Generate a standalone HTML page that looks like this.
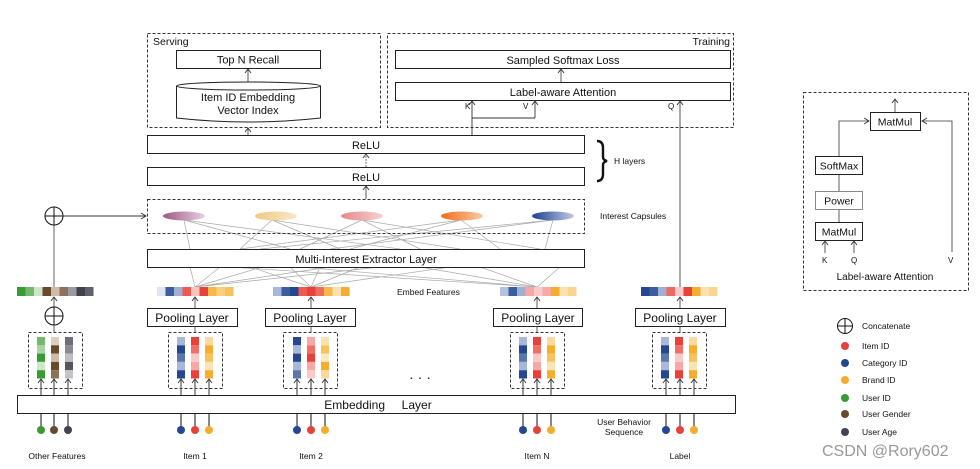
<!DOCTYPE html>
<html><head><meta charset="utf-8"><style>
html,body{margin:0;padding:0;background:#fff;}
svg{display:block;font-family:"Liberation Sans",Arial,sans-serif;}
</style></head><body>
<svg width="980" height="469" viewBox="0 0 980 469" xmlns="http://www.w3.org/2000/svg">
<defs>
<marker id="a" markerWidth="10" markerHeight="10" refX="9" refY="5" orient="auto" markerUnits="userSpaceOnUse"><path d="M5,2 L9,5 L5,8" fill="none" stroke="#333" stroke-width="0.9"/></marker>
<marker id="ar" markerWidth="10" markerHeight="10" refX="9" refY="5" orient="auto" markerUnits="userSpaceOnUse"><path d="M4,2 L9,5 L4,8" fill="none" stroke="#333" stroke-width="0.9"/></marker>
<linearGradient id="g1"><stop offset="0" stop-color="#9a5a86"/><stop offset="1" stop-color="#e8d0e0"/></linearGradient>
<linearGradient id="g2"><stop offset="0" stop-color="#efc882"/><stop offset="1" stop-color="#f8e8c8"/></linearGradient>
<linearGradient id="g3"><stop offset="0" stop-color="#e48a8a"/><stop offset="1" stop-color="#f6d0d0"/></linearGradient>
<linearGradient id="g4"><stop offset="0" stop-color="#f06a1e"/><stop offset="1" stop-color="#fbcaa0"/></linearGradient>
<linearGradient id="g5"><stop offset="0" stop-color="#1f3f8f"/><stop offset="1" stop-color="#c0cce8"/></linearGradient>
</defs>
<g font-size="11" fill="#111">
<!-- Serving -->
<rect x="147.5" y="33.5" width="233" height="94" fill="none" stroke="#333" stroke-dasharray="3,2"/>
<text x="153" y="45" font-size="10.5">Serving</text>
<rect x="176.5" y="50.5" width="144" height="18" fill="#fff" stroke="#222"/>
<text x="248" y="63.5" text-anchor="middle">Top N Recall</text>
<path d="M176.5,86 V118 Q248,126 320.5,118 V86" fill="#fff" stroke="#222"/>
<ellipse cx="248.5" cy="86" rx="72" ry="4" fill="#fff" stroke="#222"/>
<text x="248" y="101" text-anchor="middle">Item ID Embedding</text>
<text x="248" y="114" text-anchor="middle">Vector Index</text>
<line x1="248" y1="82" x2="248" y2="69" stroke="#333" stroke-width="0.8" marker-end="url(#a)"/>
<line x1="248" y1="135" x2="248" y2="128" stroke="#333" stroke-width="0.8" marker-end="url(#a)"/>
<!-- Training -->
<rect x="387.5" y="33.5" width="346" height="94" fill="none" stroke="#333" stroke-dasharray="3,2"/>
<text x="730" y="45" font-size="10.5" text-anchor="end">Training</text>
<rect x="395.5" y="50.5" width="335" height="18" fill="#fff" stroke="#222"/>
<text x="563" y="64" text-anchor="middle">Sampled Softmax Loss</text>
<rect x="395.5" y="82.5" width="335" height="18" fill="#fff" stroke="#222"/>
<text x="563" y="96" text-anchor="middle">Label-aware Attention</text>
<line x1="561" y1="82" x2="561" y2="69" stroke="#333" stroke-width="0.8" marker-end="url(#a)"/>
<text x="465" y="109" font-size="8">K</text><text x="523" y="109" font-size="8">V</text><text x="668" y="109" font-size="8">Q</text>
<path d="M472,135 V118 H535" fill="none" stroke="#333" stroke-width="0.9"/>
<line x1="472" y1="118" x2="472" y2="101" stroke="#333" stroke-width="0.9" marker-end="url(#a)"/>
<line x1="535" y1="118" x2="535" y2="101" stroke="#333" stroke-width="0.9" marker-end="url(#a)"/>
<line x1="680" y1="287" x2="680" y2="101" stroke="#444" stroke-width="0.9" marker-end="url(#a)"/>
<!-- ReLU -->
<rect x="147.5" y="135.5" width="437" height="18" fill="#fff" stroke="#222"/>
<text x="366" y="149" text-anchor="middle">ReLU</text>
<rect x="147.5" y="167.5" width="437" height="18" fill="#fff" stroke="#222"/>
<text x="366" y="181" text-anchor="middle">ReLU</text>
<line x1="366" y1="167" x2="366" y2="154" stroke="#555" stroke-width="0.8" stroke-dasharray="2,1" marker-end="url(#a)"/>
<line x1="366" y1="199" x2="366" y2="186" stroke="#333" stroke-width="0.8" marker-end="url(#a)"/>
<path d="M597,141 Q603,141 603,148 V157 Q603,160 607,161 Q603,162 603,165 V174 Q603,181 597,181" fill="none" stroke="#111" stroke-width="2.4"/>
<text x="614" y="164" font-size="8.5">H layers</text>
<!-- capsules -->
<g stroke="#aaa" stroke-width="0.7" fill="none">
<path d="M184,220 L190,249 M184,220 L290,249 M184,220 L400,249 M272,220 L240,249 M272,220 L340,249 M272,220 L460,249 M362,220 L300,249 M362,220 L420,249 M362,220 L540,249 M461,220 L350,249 M461,220 L240,249 M461,220 L500,249 M553,220 L260,249 M553,220 L330,249 M553,220 L545,249"/>
<path d="M195,287 L190,267 M195,287 L220,267 M195,287 L262,267 M195,287 L330,267 M195,287 L380,267 M311,287 L250,267 M311,287 L290,267 M311,287 L320,267 M311,287 L360,267 M311,287 L450,267 M537,287 L420,267 M537,287 L480,267 M537,287 L560,267 M537,287 L300,267 M537,287 L230,267"/>
</g>
<rect x="147.5" y="199.5" width="437" height="34" fill="none" stroke="#333" stroke-dasharray="3,2"/>
<ellipse cx="184" cy="216" rx="21" ry="4.5" fill="url(#g1)"/>
<ellipse cx="276" cy="216" rx="21" ry="4.5" fill="url(#g2)"/>
<ellipse cx="362" cy="216" rx="21" ry="4.5" fill="url(#g3)"/>
<ellipse cx="462" cy="216" rx="21" ry="4.5" fill="url(#g4)"/>
<ellipse cx="553" cy="216" rx="21" ry="4.5" fill="url(#g5)"/>
<text x="600" y="219" font-size="8.5">Interest Capsules</text>
<rect x="147.5" y="249.5" width="437" height="18" fill="#fff" stroke="#222"/>
<text x="366" y="263" text-anchor="middle">Multi-Interest Extractor Layer</text>
<!-- concat -->
<line x1="54" y1="287" x2="54" y2="225" stroke="#999" stroke-width="1.5"/>
<line x1="63" y1="216" x2="146" y2="216" stroke="#333" stroke-width="0.9" marker-end="url(#ar)"/>
<g fill="#fff" stroke="#111" stroke-width="1"><circle cx="54" cy="216" r="9"/><path d="M45,216 H63 M54,207 V225"/><circle cx="54" cy="316" r="9"/><path d="M45,316 H63 M54,307 V325"/></g>
<line x1="54" y1="307" x2="54" y2="297" stroke="#333" stroke-width="0.8" marker-end="url(#a)"/>
<line x1="54" y1="332" x2="54" y2="325" stroke="#333" stroke-width="0.8"/>
<!-- embed bars -->
<g>
<rect x="17" y="287" width="8.5" height="9" fill="#3a9a33"/><rect x="25.5" y="287" width="8.5" height="9" fill="#74b96a"/><rect x="34" y="287" width="8.5" height="9" fill="#cde6c8"/><rect x="42.5" y="287" width="8.5" height="9" fill="#6b4a2c"/><rect x="51" y="287" width="8.5" height="9" fill="#cdbcaa"/><rect x="59.5" y="287" width="8.5" height="9" fill="#8c7258"/><rect x="68" y="287" width="8.5" height="9" fill="#9a9aa2"/><rect x="76.5" y="287" width="8.5" height="9" fill="#42424e"/><rect x="85" y="287" width="8.5" height="9" fill="#60606c"/>
</g>
<g>
<rect x="157" y="287" width="8.5" height="9" fill="#dfe4ef"/><rect x="165.5" y="287" width="8.5" height="9" fill="#3a5ea0"/><rect x="174" y="287" width="8.5" height="9" fill="#9fb0d3"/><rect x="182.5" y="287" width="8.5" height="9" fill="#ef5a50"/><rect x="191" y="287" width="8.5" height="9" fill="#f7c4c0"/><rect x="199.5" y="287" width="8.5" height="9" fill="#e8413a"/><rect x="208" y="287" width="8.5" height="9" fill="#f6b847"/><rect x="216.5" y="287" width="8.5" height="9" fill="#f9cf7d"/><rect x="225" y="287" width="8.5" height="9" fill="#f6c15a"/>
</g>
<g>
<rect x="273" y="287" width="8.5" height="9" fill="#a9b8d8"/><rect x="281.5" y="287" width="8.5" height="9" fill="#3a5ea0"/><rect x="290" y="287" width="8.5" height="9" fill="#24478f"/><rect x="298.5" y="287" width="8.5" height="9" fill="#ef5a50"/><rect x="307" y="287" width="8.5" height="9" fill="#e8413a"/><rect x="315.5" y="287" width="8.5" height="9" fill="#ef6a60"/><rect x="324" y="287" width="8.5" height="9" fill="#f6b847"/><rect x="332.5" y="287" width="8.5" height="9" fill="#fbe0b0"/><rect x="341" y="287" width="8.5" height="9" fill="#f4ad2c"/>
</g>
<g>
<rect x="500" y="287" width="8.5" height="9" fill="#b4c2de"/><rect x="508.5" y="287" width="8.5" height="9" fill="#3a5ea0"/><rect x="517" y="287" width="8.5" height="9" fill="#9fb0d3"/><rect x="525.5" y="287" width="8.5" height="9" fill="#f7a8a5"/><rect x="534" y="287" width="8.5" height="9" fill="#f9cbc8"/><rect x="542.5" y="287" width="8.5" height="9" fill="#f7a8a5"/><rect x="551" y="287" width="8.5" height="9" fill="#f4ad2c"/><rect x="559.5" y="287" width="8.5" height="9" fill="#fbe0b0"/><rect x="568" y="287" width="8.5" height="9" fill="#f9d590"/>
</g>
<g>
<rect x="641" y="287" width="8.5" height="9" fill="#24478f"/><rect x="649.5" y="287" width="8.5" height="9" fill="#3a5ea0"/><rect x="658" y="287" width="8.5" height="9" fill="#9fb0d3"/><rect x="666.5" y="287" width="8.5" height="9" fill="#ef6a60"/><rect x="675" y="287" width="8.5" height="9" fill="#f9cbc8"/><rect x="683.5" y="287" width="8.5" height="9" fill="#e8413a"/><rect x="692" y="287" width="8.5" height="9" fill="#f4ad2c"/><rect x="700.5" y="287" width="8.5" height="9" fill="#fbe0b0"/><rect x="709" y="287" width="8.5" height="9" fill="#f9d590"/>
</g>
<text x="397" y="295" font-size="8.5">Embed Features</text>
<!-- pooling -->
<g fill="#fff" stroke="#222">
<rect x="147.5" y="308.5" width="90" height="18"/><rect x="265.5" y="308.5" width="90" height="18"/><rect x="493.5" y="308.5" width="89" height="18"/><rect x="635.5" y="308.5" width="90" height="18"/>
</g>
<g font-size="12" text-anchor="middle"><text x="192" y="322">Pooling Layer</text><text x="310" y="322">Pooling Layer</text><text x="538" y="322">Pooling Layer</text><text x="680" y="322">Pooling Layer</text></g>
<g stroke="#333" stroke-width="0.8">
<line x1="195" y1="308" x2="195" y2="297" marker-end="url(#a)"/><line x1="311" y1="308" x2="311" y2="297" marker-end="url(#a)"/><line x1="537" y1="308" x2="537" y2="297" marker-end="url(#a)"/><line x1="680" y1="308" x2="680" y2="297" marker-end="url(#a)"/>
<line x1="195" y1="327" x2="195" y2="332"/><line x1="311" y1="327" x2="311" y2="332"/><line x1="537" y1="327" x2="537" y2="332"/><line x1="680" y1="327" x2="680" y2="332"/>
</g>
<!-- dashed groups -->
<g fill="none" stroke="#333" stroke-dasharray="3,2">
<rect x="28.5" y="332.5" width="54" height="56"/><rect x="168.5" y="332.5" width="54" height="56"/><rect x="283.5" y="332.5" width="54" height="56"/><rect x="510.5" y="332.5" width="54" height="56"/><rect x="652.5" y="332.5" width="54" height="56"/>
</g>
<!-- columns -->
<g>
<rect x="37" y="337" width="8" height="8.3" fill="#74b96a"/><rect x="37" y="345.3" width="8" height="8.3" fill="#a8d4a0"/><rect x="37" y="353.6" width="8" height="8.3" fill="#3a9a33"/><rect x="37" y="361.9" width="8" height="8.3" fill="#cde6c8"/><rect x="37" y="370.2" width="8" height="8.3" fill="#3a9a33"/>
<rect x="51" y="337" width="8" height="8.3" fill="#ddd0c2"/><rect x="51" y="345.3" width="8" height="8.3" fill="#6b4a2c"/><rect x="51" y="353.6" width="8" height="8.3" fill="#cdbcaa"/><rect x="51" y="361.9" width="8" height="8.3" fill="#6b4a2c"/><rect x="51" y="370.2" width="8" height="8.3" fill="#8c7258"/>
<rect x="65" y="337" width="8" height="8.3" fill="#6e6e78"/><rect x="65" y="345.3" width="8" height="8.3" fill="#8a8a94"/><rect x="65" y="353.6" width="8" height="8.3" fill="#bdbdc2"/><rect x="65" y="361.9" width="8" height="8.3" fill="#55555f"/><rect x="65" y="370.2" width="8" height="8.3" fill="#c4c4c8"/>
</g>
<g id="c1">
<rect x="177" y="337" width="8" height="8.3" fill="#a9b8d8"/><rect x="177" y="345.3" width="8" height="8.3" fill="#24478f"/><rect x="177" y="353.6" width="8" height="8.3" fill="#5a77b0"/><rect x="177" y="361.9" width="8" height="8.3" fill="#a9b8d8"/><rect x="177" y="370.2" width="8" height="8.3" fill="#24478f"/>
<rect x="191" y="337" width="8" height="8.3" fill="#e8413a"/><rect x="191" y="345.3" width="8" height="8.3" fill="#f07068"/><rect x="191" y="353.6" width="8" height="8.3" fill="#f9cbc8"/><rect x="191" y="361.9" width="8" height="8.3" fill="#f7a8a5"/><rect x="191" y="370.2" width="8" height="8.3" fill="#e8413a"/>
<rect x="205" y="337" width="8" height="8.3" fill="#fbd9a0"/><rect x="205" y="345.3" width="8" height="8.3" fill="#f4ad2c"/><rect x="205" y="353.6" width="8" height="8.3" fill="#f7c25e"/><rect x="205" y="361.9" width="8" height="8.3" fill="#fbe3b8"/><rect x="205" y="370.2" width="8" height="8.3" fill="#f4ad2c"/>
</g>
<g>
<rect x="293" y="337" width="8" height="8.3" fill="#24478f"/><rect x="293" y="345.3" width="8" height="8.3" fill="#a9b8d8"/><rect x="293" y="353.6" width="8" height="8.3" fill="#24478f"/><rect x="293" y="361.9" width="8" height="8.3" fill="#a9b8d8"/><rect x="293" y="370.2" width="8" height="8.3" fill="#5a77b0"/>
<rect x="307" y="337" width="8" height="8.3" fill="#f7a8a5"/><rect x="307" y="345.3" width="8" height="8.3" fill="#f07068"/><rect x="307" y="353.6" width="8" height="8.3" fill="#e8413a"/><rect x="307" y="361.9" width="8" height="8.3" fill="#f7a8a5"/><rect x="307" y="370.2" width="8" height="8.3" fill="#f9cbc8"/>
<rect x="321" y="337" width="8" height="8.3" fill="#fbe0b0"/><rect x="321" y="345.3" width="8" height="8.3" fill="#f7c25e"/><rect x="321" y="353.6" width="8" height="8.3" fill="#fde9c8"/><rect x="321" y="361.9" width="8" height="8.3" fill="#f4ad2c"/><rect x="321" y="370.2" width="8" height="8.3" fill="#fbd9a0"/>
</g>
<use href="#c1" x="342" y="0"/>
<use href="#c1" x="484" y="0"/>
<!-- input arrows into groups -->
<g stroke="#555" stroke-width="1.2">
<line x1="41" y1="395" x2="41" y2="379" marker-end="url(#a)"/><line x1="54" y1="395" x2="54" y2="379" marker-end="url(#a)"/><line x1="68" y1="395" x2="68" y2="379" marker-end="url(#a)"/>
<line x1="181" y1="395" x2="181" y2="379" marker-end="url(#a)"/><line x1="195" y1="395" x2="195" y2="379" marker-end="url(#a)"/><line x1="209" y1="395" x2="209" y2="379" marker-end="url(#a)"/>
<line x1="297" y1="395" x2="297" y2="379" marker-end="url(#a)"/><line x1="311" y1="395" x2="311" y2="379" marker-end="url(#a)"/><line x1="325" y1="395" x2="325" y2="379" marker-end="url(#a)"/>
<line x1="523" y1="395" x2="523" y2="379" marker-end="url(#a)"/><line x1="537" y1="395" x2="537" y2="379" marker-end="url(#a)"/><line x1="551" y1="395" x2="551" y2="379" marker-end="url(#a)"/>
<line x1="666" y1="395" x2="666" y2="379" marker-end="url(#a)"/><line x1="680" y1="395" x2="680" y2="379" marker-end="url(#a)"/><line x1="694" y1="395" x2="694" y2="379" marker-end="url(#a)"/>
</g>
<text x="420" y="382" font-size="14" text-anchor="middle">· · ·</text>
<!-- embedding layer -->
<g stroke="#555" stroke-width="1.4">
<line x1="41" y1="413" x2="41" y2="428"/><line x1="54" y1="413" x2="54" y2="428"/><line x1="68" y1="413" x2="68" y2="428"/>
<line x1="181" y1="413" x2="181" y2="428"/><line x1="195" y1="413" x2="195" y2="428"/><line x1="209" y1="413" x2="209" y2="428"/>
<line x1="297" y1="413" x2="297" y2="428"/><line x1="311" y1="413" x2="311" y2="428"/><line x1="325" y1="413" x2="325" y2="428"/>
<line x1="523" y1="413" x2="523" y2="428"/><line x1="537" y1="413" x2="537" y2="428"/><line x1="551" y1="413" x2="551" y2="428"/>
<line x1="666" y1="413" x2="666" y2="428"/><line x1="680" y1="413" x2="680" y2="428"/><line x1="694" y1="413" x2="694" y2="428"/>
</g>
<rect x="17.5" y="395.5" width="718" height="18" fill="#fff" stroke="#222"/>
<text x="378" y="409" font-size="12" text-anchor="middle" xml:space="preserve">Embedding     Layer</text>
<g>
<circle cx="41" cy="430" r="4" fill="#3a9a33"/><circle cx="54" cy="430" r="4" fill="#6b4a2c"/><circle cx="68" cy="430" r="4" fill="#42424e"/>
<circle cx="181" cy="430" r="4" fill="#24478f"/><circle cx="195" cy="430" r="4" fill="#e8413a"/><circle cx="209" cy="430" r="4" fill="#f4ad2c"/>
<circle cx="297" cy="430" r="4" fill="#24478f"/><circle cx="311" cy="430" r="4" fill="#e8413a"/><circle cx="325" cy="430" r="4" fill="#f4ad2c"/>
<circle cx="523" cy="430" r="4" fill="#24478f"/><circle cx="537" cy="430" r="4" fill="#e8413a"/><circle cx="551" cy="430" r="4" fill="#f4ad2c"/>
<circle cx="666" cy="430" r="4" fill="#24478f"/><circle cx="680" cy="430" r="4" fill="#e8413a"/><circle cx="694" cy="430" r="4" fill="#f4ad2c"/>
</g>
<g font-size="8.5" text-anchor="middle">
<text x="57" y="459">Other Features</text><text x="195" y="459">Item 1</text><text x="311" y="459">Item 2</text><text x="537" y="459">Item N</text><text x="680" y="459">Label</text>
<text x="624" y="425">User Behavior</text><text x="624" y="435">Sequence</text>
</g>
<!-- right panel -->
<rect x="803.5" y="92.5" width="165" height="198" fill="none" stroke="#333" stroke-dasharray="3,2"/>
<rect x="870.5" y="112.5" width="50" height="18" fill="#fff" stroke="#222"/><text x="895" y="125.5" font-size="10.5" text-anchor="middle">MatMul</text>
<rect x="815.5" y="156.5" width="47" height="18" fill="#fff" stroke="#222"/><text x="839" y="169.5" font-size="10.5" text-anchor="middle">SoftMax</text>
<rect x="815.5" y="191.5" width="47" height="18" fill="#fff" stroke="#888"/><text x="839" y="204.5" font-size="10.5" text-anchor="middle">Power</text>
<rect x="815.5" y="222.5" width="47" height="18" fill="#fff" stroke="#222"/><text x="839" y="235.5" font-size="10.5" text-anchor="middle">MatMul</text>
<g stroke="#333" stroke-width="0.8" fill="none">
<line x1="839" y1="175" x2="839" y2="191"/><line x1="839" y1="210" x2="839" y2="222"/>
<path d="M839,156 V121 H869" marker-end="url(#ar)"/>
<path d="M952,252 V121 H922" marker-end="url(#ar)"/>
<line x1="895" y1="112" x2="895" y2="99" marker-end="url(#a)"/>
<line x1="825" y1="253" x2="825" y2="241" marker-end="url(#a)"/>
<line x1="854" y1="253" x2="854" y2="241" marker-end="url(#a)"/>
</g>
<g font-size="8"><text x="822" y="263">K</text><text x="851" y="263">Q</text><text x="948" y="263">V</text></g>
<text x="885" y="280" font-size="10" text-anchor="middle">Label-aware Attention</text>
<!-- legend -->
<g fill="#fff" stroke="#111"><circle cx="845" cy="326" r="7.5"/><path d="M837.5,326 H852.5 M845,318.5 V333.5"/></g>
<g font-size="8.5">
<text x="862" y="329">Concatenate</text>
<circle cx="845" cy="346" r="4" fill="#e8413a"/><text x="862" y="349">Item ID</text>
<circle cx="845" cy="363" r="4" fill="#24478f"/><text x="862" y="366">Category ID</text>
<circle cx="845" cy="380" r="4" fill="#f4ad2c"/><text x="862" y="383">Brand ID</text>
<circle cx="845" cy="398" r="4" fill="#3a9a33"/><text x="862" y="401">User ID</text>
<circle cx="845" cy="414" r="4" fill="#6b4a2c"/><text x="862" y="417">User Gender</text>
<circle cx="845" cy="432" r="4" fill="#42424e"/><text x="862" y="435">User Age</text>
</g>
<text x="822" y="456" font-size="16" fill="#999">CSDN @Rory602</text>
</g>
</svg>
</body></html>
